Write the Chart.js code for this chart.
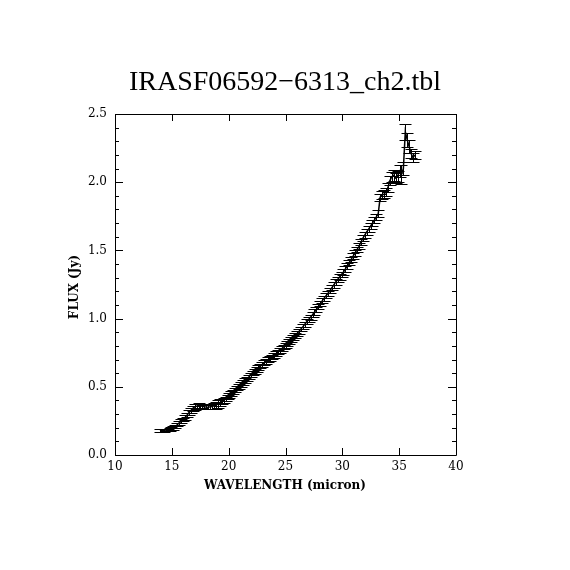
<!DOCTYPE html>
<html>
<head>
<meta charset="utf-8">
<script src="https://cdn.jsdelivr.net/npm/chart.js@4.4.1/dist/chart.umd.min.js"></script>
<style>
  html, body { margin: 0; padding: 0; background: #ffffff; }
  #wrap { width: 570px; height: 570px; }
</style>
</head>
<body>
<div id="wrap"><canvas id="c" width="570" height="570"></canvas></div>
<script>
// ---- data ----
const chartTitle = "IRASF06592\u22126313_ch2.tbl";
const xAxisTitle = "WAVELENGTH (micron)";
const yAxisTitle = "FLUX (Jy)";

const wavelength = [
  13.95, 14.12, 14.29, 14.46, 14.63, 14.80, 14.97, 15.14, 15.31, 15.48,
  15.65, 15.82, 15.99, 16.16, 16.33, 16.50, 16.67, 16.84, 17.01, 17.18,
  17.35, 17.52, 17.69, 17.86, 18.03, 18.20, 18.37, 18.54, 18.71, 18.88,
  19.05, 19.22, 19.39, 19.56, 19.73, 19.90, 20.07, 20.24, 20.41, 20.58,
  20.75, 20.92, 21.09, 21.26, 21.43, 21.60, 21.77, 21.94, 22.11, 22.28,
  22.45, 22.62, 22.79, 22.96, 23.13, 23.30, 23.47, 23.64, 23.81, 23.98,
  24.15, 24.32, 24.49, 24.66, 24.83, 25.00, 25.17, 25.34, 25.51, 25.68,
  25.85, 26.02, 26.19, 26.36, 26.53, 26.70, 26.87, 27.04, 27.21, 27.38,
  27.55, 27.72, 27.89, 28.06, 28.23, 28.40, 28.57, 28.74, 28.91, 29.08,
  29.25, 29.42, 29.59, 29.76, 29.93, 30.10, 30.27, 30.44, 30.61, 30.78,
  30.95, 31.12, 31.29, 31.46, 31.63, 31.80, 31.97, 32.14, 32.31, 32.48,
  32.65, 32.82, 32.99, 33.16, 33.33, 33.50, 33.67, 33.84, 34.01, 34.18,
  34.35, 34.52, 34.69, 34.86, 35.03, 35.20, 35.37, 35.54, 35.71, 35.88,
  36.05, 36.22, 36.39
];

const flux = [
  0.180, 0.181, 0.182, 0.183, 0.184, 0.186, 0.191, 0.198, 0.208, 0.222,
  0.236, 0.248, 0.260, 0.275, 0.292, 0.310, 0.326, 0.342, 0.352, 0.358,
  0.362, 0.360, 0.357, 0.354, 0.352, 0.351, 0.353, 0.356, 0.360, 0.366,
  0.375, 0.384, 0.392, 0.401, 0.412, 0.424, 0.437, 0.450, 0.463, 0.476,
  0.489, 0.502, 0.516, 0.530, 0.545, 0.558, 0.572, 0.586, 0.600, 0.614,
  0.627, 0.640, 0.652, 0.664, 0.676, 0.687, 0.698, 0.708, 0.719, 0.730,
  0.742, 0.755, 0.767, 0.779, 0.792, 0.806, 0.820, 0.834, 0.848, 0.862,
  0.876, 0.891, 0.907, 0.924, 0.941, 0.959, 0.977, 0.994, 1.011, 1.029,
  1.048, 1.068, 1.089, 1.110, 1.130, 1.150, 1.168, 1.186, 1.205, 1.226,
  1.247, 1.268, 1.287, 1.305, 1.323, 1.342, 1.364, 1.386, 1.410, 1.434,
  1.458, 1.482, 1.506, 1.530, 1.560, 1.588, 1.612, 1.636, 1.655, 1.678,
  1.700, 1.722, 1.745, 1.770, 1.890, 1.905, 1.912, 1.930, 1.960, 2.010,
  2.040, 2.050, 2.030, 2.045, 2.080, 2.055, 2.100, 2.370, 2.310, 2.260,
  2.210, 2.180, 2.200
];

const fluxErr = [
  0.010, 0.010, 0.010, 0.010, 0.010, 0.011, 0.011, 0.012, 0.012, 0.013,
  0.013, 0.014, 0.014, 0.015, 0.016, 0.017, 0.018, 0.020, 0.020, 0.018,
  0.016, 0.015, 0.015, 0.015, 0.015, 0.015, 0.016, 0.018, 0.022, 0.026,
  0.028, 0.024, 0.020, 0.017, 0.016, 0.016, 0.016, 0.016, 0.016, 0.016,
  0.016, 0.016, 0.017, 0.017, 0.017, 0.017, 0.017, 0.017, 0.017, 0.017,
  0.017, 0.017, 0.017, 0.017, 0.017, 0.017, 0.017, 0.017, 0.017, 0.017,
  0.018, 0.018, 0.018, 0.018, 0.018, 0.018, 0.018, 0.018, 0.018, 0.018,
  0.018, 0.018, 0.018, 0.018, 0.018, 0.018, 0.018, 0.018, 0.019, 0.019,
  0.019, 0.019, 0.019, 0.019, 0.019, 0.019, 0.019, 0.019, 0.019, 0.019,
  0.019, 0.019, 0.020, 0.020, 0.020, 0.020, 0.020, 0.020, 0.020, 0.020,
  0.020, 0.021, 0.021, 0.021, 0.021, 0.022, 0.022, 0.022, 0.023, 0.023,
  0.024, 0.024, 0.025, 0.026, 0.027, 0.028, 0.029, 0.030, 0.032, 0.034,
  0.036, 0.038, 0.037, 0.040, 0.044, 0.070, 0.047, 0.060, 0.052, 0.046,
  0.032, 0.034, 0.030
];

const xTickValues = [10, 15, 20, 25, 30, 35, 40];
const yTickValues = [0.0, 0.5, 1.0, 1.5, 2.0, 2.5];

// ---- plugins ----
const framePlugin = {
  id: 'frameTicks',
  afterDraw(chart) {
    const ctx = chart.ctx;
    const a = chart.chartArea;
    const xs = chart.scales.x, ys = chart.scales.y;
    ctx.save();
    ctx.strokeStyle = '#000';
    ctx.lineWidth = 1;
    ctx.beginPath();
    ctx.rect(Math.round(a.left) + 0.5, Math.round(a.top) + 0.5,
             Math.round(a.right - a.left), Math.round(a.bottom - a.top));
    ctx.stroke();
    ctx.beginPath();
    xTickValues.forEach(v => {
      const p = Math.round(xs.getPixelForValue(v)) + 0.5;
      ctx.moveTo(p, a.bottom); ctx.lineTo(p, a.bottom - 7);
      ctx.moveTo(p, a.top); ctx.lineTo(p, a.top + 7);
    });
    for (let k = 0; k <= 25; k++) {
      const v = k / 10;
      const len = (k % 5 === 0) ? 8 : 4;
      const p = Math.round(ys.getPixelForValue(v)) + 0.5;
      ctx.moveTo(a.left, p); ctx.lineTo(a.left + len, p);
      ctx.moveTo(a.right, p); ctx.lineTo(a.right - len, p);
    }
    ctx.stroke();

    ctx.fillStyle = '#000';
    ctx.textAlign = 'center';
    ctx.textBaseline = 'middle';
    ctx.font = '28px "Liberation Serif"';
    ctx.fillText(chartTitle, 285, 83);
    ctx.font = 'bold 12px "DejaVu Serif"';
    ctx.fillText(xAxisTitle, 285, 486);
    ctx.translate(75, 287);
    ctx.rotate(-Math.PI / 2);
    ctx.fillText(yAxisTitle, 0, 0);
    ctx.restore();
  }
};

const errorBarPlugin = {
  id: 'errorBars',
  afterDatasetsDraw(chart) {
    const ctx = chart.ctx;
    const xs = chart.scales.x, ys = chart.scales.y;
    ctx.save();
    ctx.strokeStyle = '#000';
    ctx.lineWidth = 1;
    ctx.beginPath();
    for (let i = 0; i < wavelength.length; i++) {
      const px = Math.round(xs.getPixelForValue(wavelength[i])) + 0.5;
      const yt = Math.round(ys.getPixelForValue(flux[i] + fluxErr[i])) + 0.5;
      const yb = Math.round(ys.getPixelForValue(flux[i] - fluxErr[i])) + 0.5;
      ctx.moveTo(px, yt); ctx.lineTo(px, yb);
      ctx.moveTo(px - 6, yt); ctx.lineTo(px + 6, yt);
      ctx.moveTo(px - 6, yb); ctx.lineTo(px + 6, yb);
    }
    ctx.stroke();
    ctx.restore();
  }
};

const points = wavelength.map((w, i) => ({ x: w, y: flux[i] }));

new Chart(document.getElementById('c'), {
  type: 'scatter',
  data: {
    datasets: [{
      data: points,
      showLine: true,
      borderColor: '#000',
      borderWidth: 1.5,
      pointRadius: 0,
      tension: 0
    }]
  },
  options: {
    responsive: false,
    animation: false,
    devicePixelRatio: 1,
    layout: { padding: { top: 114, right: 114, left: 0, bottom: 0 } },
    plugins: { legend: { display: false }, tooltip: { enabled: false }, title: { display: false } },
    scales: {
      x: {
        type: 'linear',
        min: 10, max: 40,
        afterFit(s) { s.height = 115; },
        afterBuildTicks(s) { s.ticks = xTickValues.map(v => ({ value: v })); },
        grid: { display: false, drawTicks: false },
        border: { display: false },
        ticks: {
          color: '#000',
          padding: 5,
          font: { family: 'DejaVu Serif', size: 12 },
          callback: v => String(v),
          maxRotation: 0
        }
      },
      y: {
        type: 'linear',
        min: 0, max: 2.5,
        afterFit(s) { s.width = 115; },
        afterBuildTicks(s) { s.ticks = yTickValues.map(v => ({ value: v })); },
        grid: { display: false, drawTicks: false },
        border: { display: false },
        ticks: {
          color: '#000',
          padding: 8,
          font: { family: 'DejaVu Serif', size: 12 },
          callback: v => Number(v).toFixed(1)
        }
      }
    }
  },
  plugins: [errorBarPlugin, framePlugin]
});
</script>
</body>
</html>
